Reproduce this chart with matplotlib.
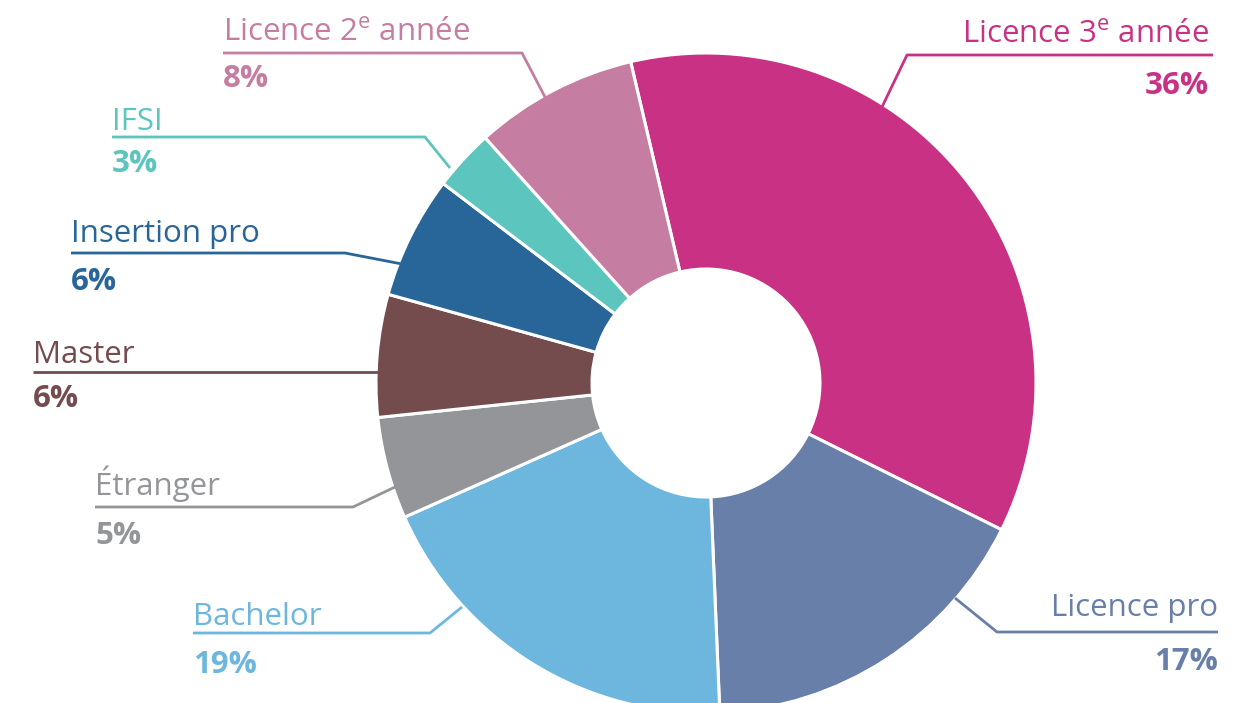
import matplotlib
matplotlib.use("Agg")
import matplotlib.pyplot as plt

# ---- data ----
categories = ["Licence 3$^{\\mathrm{e}}$ année", "Licence pro", "Bachelor", "Étranger",
              "Master", "Insertion pro", "IFSI", "Licence 2$^{\\mathrm{e}}$ année"]
values = [36, 17, 19, 5, 6, 6, 3, 8]
pct_labels = ["36%", "17%", "19%", "5%", "6%", "6%", "3%", "8%"]
colors = ["#C93184", "#687FAA", "#6DB7DE", "#939598",
          "#744C4D", "#286598", "#5CC5BD", "#C57DA1"]

# ---- layout (pixel coords, y from top) ----
W, H = 1250, 703
CX, CY, R, R_IN = 706, 383, 330, 114
layout = [
    dict(x=1209, yb=42, ha="right", py=94, line=[(1213, 55), (907, 55), (882, 107)]),
    dict(x=1218, yb=616, ha="right", py=670, line=[(1218, 632), (997, 632), (955, 598)]),
    dict(x=193, yb=625, ha="left", py=673, line=[(193, 633), (430, 633), (462, 607)]),
    dict(x=95, yb=495, ha="left", py=544, line=[(95, 507), (353, 507), (395, 487)]),
    dict(x=33, yb=363, ha="left", py=407, line=[(33, 372), (380, 372)]),
    dict(x=71, yb=242, ha="left", py=290, line=[(71, 253), (345, 253), (402, 264)]),
    dict(x=112, yb=130, ha="left", py=172, line=[(112, 137), (425, 137), (450, 168)]),
    dict(x=223, yb=40, ha="left", py=87, line=[(223, 53), (522, 53), (545, 97)]),
]

plt.rcParams["font.family"] = ["Open Sans", "DejaVu Sans"]
plt.rcParams["mathtext.fontset"] = "custom"
plt.rcParams["mathtext.rm"] = "Open Sans"

fig = plt.figure(figsize=(W / 100, H / 100), dpi=100)
ax = fig.add_axes([0, 0, 1, 1])

ax.pie(values, colors=colors, startangle=103.2, counterclock=False,
       center=(CX, H - CY), radius=R,
       wedgeprops=dict(width=R - R_IN, edgecolor="white", linewidth=2.2),
       frame=True)
ax.set_xlim(0, W)
ax.set_ylim(0, H)
ax.set_aspect("equal")
ax.axis("off")

for cat, pct, col, lay in zip(categories, pct_labels, colors, layout):
    xs = [p[0] for p in lay["line"]]
    ys = [H - p[1] for p in lay["line"]]
    ax.plot(xs, ys, color=col, lw=2, solid_capstyle="butt", zorder=5)
    ax.text(lay["x"], H - lay["yb"], cat, color=col, fontsize=22.5,
            ha=lay["ha"], va="baseline")
    ax.text(lay["x"], H - lay["py"], pct, color=col, fontsize=22.5, fontweight="bold",
            ha=lay["ha"], va="baseline")

fig.savefig("out.png", dpi=100)
